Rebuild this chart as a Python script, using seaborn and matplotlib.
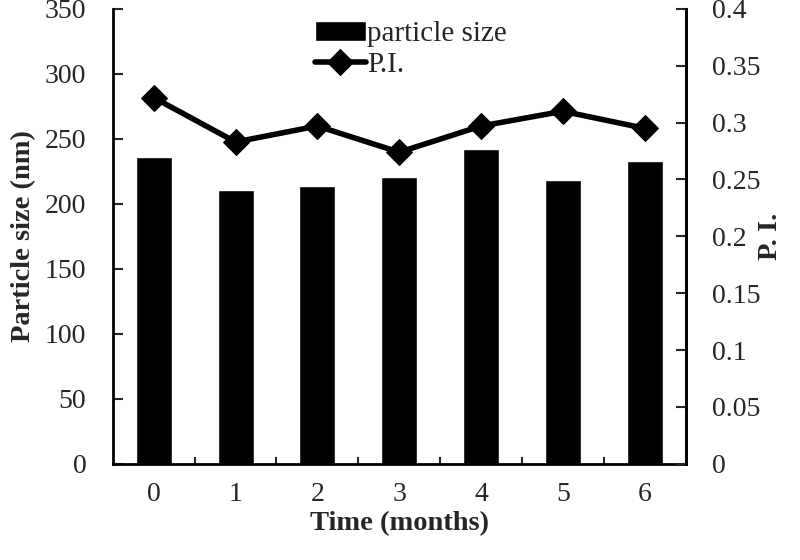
import numpy as np
import pandas as pd
import matplotlib
matplotlib.use("Agg")
import matplotlib.pyplot as plt
import seaborn as sns
from matplotlib.ticker import FixedLocator, FixedFormatter

# data
months = [0, 1, 2, 3, 4, 5, 6]
particle_size = [236, 211, 214, 221, 242, 218, 233]
pi_values = [0.322, 0.283, 0.297, 0.274, 0.297, 0.310, 0.295]
size_ticks = [0, 50, 100, 150, 200, 250, 300, 350]
pi_ticks = [0, 0.05, 0.1, 0.15, 0.2, 0.25, 0.3, 0.35, 0.4]
pi_tick_labels = ["0", "0.05", "0.1", "0.15", "0.2", "0.25", "0.3", "0.35", "0.4"]

sns.set_style("white")
plt.rcParams['font.family'] = ['Liberation Serif', 'DejaVu Serif']

df = pd.DataFrame({"month": months, "size": particle_size, "pi": pi_values})

fig = plt.figure(figsize=(8, 5.6), dpi=100)
ax = fig.add_axes([0.141, 0.172, 0.716, 0.812])

sns.barplot(data=df, x="month", y="size", color="black", width=0.44,
            saturation=1, ax=ax, label="particle size")
ax.set_ylim(0, 350)
ax.set_xlim(-0.5, 6.5)
ax.yaxis.set_major_locator(FixedLocator(size_ticks))
ax.set_xticks(np.arange(0.5, 6.5, 1), minor=True)
ax.tick_params(axis="x", which="major", length=0, labelsize=20, pad=13)
ax.tick_params(axis="x", which="minor", direction="in", length=5, width=1.5,
               bottom=True)
ax.tick_params(axis="y", direction="in", length=7, width=1.5, labelsize=20,
               left=True, pad=19)
ax.set_xlabel("Time (months)", fontsize=20.5, fontweight="bold", labelpad=3)
ax.set_ylabel("Particle size (nm)", fontsize=20.5, fontweight="bold", labelpad=6)
ax.spines["top"].set_visible(False)
for s in ["left", "bottom", "right"]:
    ax.spines[s].set_linewidth(2)
    ax.spines[s].set_color("black")

ax2 = ax.twinx()
sns.lineplot(data=df, x="month", y="pi", color="black", linewidth=4,
             marker="D", markersize=13, markeredgecolor="black", ax=ax2,
             label="P.I.")
ax2.set_ylim(0, 0.4)
ax2.yaxis.set_major_locator(FixedLocator(pi_ticks))
ax2.yaxis.set_major_formatter(FixedFormatter(pi_tick_labels))
ax2.tick_params(axis="y", direction="in", length=7, width=1.5, labelsize=20,
                right=True, pad=19)
ax2.set_ylabel("P. I.", fontsize=20.5, fontweight="bold", labelpad=-2)
ax2.set_xlabel("")
for s in ["top", "left", "bottom"]:
    ax2.spines[s].set_visible(False)
ax2.spines["right"].set_linewidth(2)
ax2.spines["right"].set_color("black")
ax2.get_legend().remove()

h1, l1 = ax.get_legend_handles_labels()
h2, l2 = ax2.get_legend_handles_labels()
ax.legend(h1 + h2, l1 + l2, loc="upper left", bbox_to_anchor=(0.332, 1.0),
          frameon=False, fontsize=21, handlelength=1.75, handletextpad=0.05,
          labelspacing=0.15, borderaxespad=0)

fig.savefig("out.png", dpi=100)
